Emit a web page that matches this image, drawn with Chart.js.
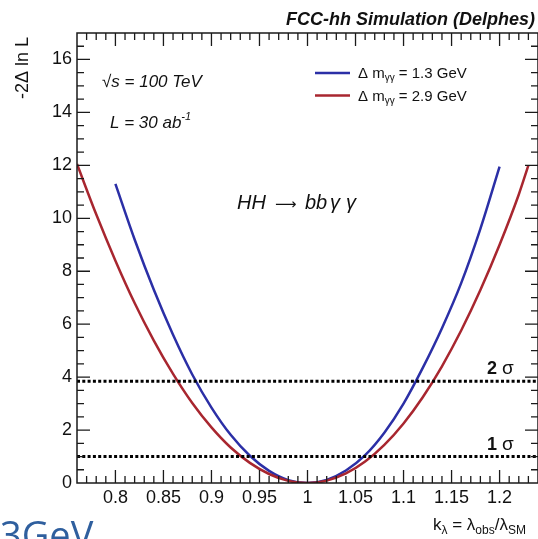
<!DOCTYPE html>
<html>
    <head>
        <script src="https://cdn.jsdelivr.net/npm/chart.js@4"></script>
        <style>
            body { margin: 0; background: #fff; }
        </style>
    </head>
    <body>
        <canvas id="nllChart" width="538" height="539"></canvas>

        <script>
            // DATA: -2 delta ln L versus k_lambda for two di-photon mass resolutions
            const kLambdaNarrow = [0.80, 0.82, 0.84, 0.86, 0.88, 0.90, 0.92, 0.94, 0.96, 0.98, 1.00,
                                   1.02, 1.04, 1.06, 1.08, 1.10, 1.12, 1.14, 1.16, 1.18, 1.20];
            const nllNarrow     = [11.3, 9.2, 7.3, 5.6, 4.1, 2.85, 1.82, 1.03, 0.46, 0.11, 0,
                                   0.12, 0.47, 1.05, 1.9, 3.0, 4.35, 5.85, 7.55, 9.6, 11.95];

            const kLambdaWide = [0.76, 0.78, 0.80, 0.82, 0.84, 0.86, 0.88, 0.90, 0.92, 0.94, 0.96, 0.98, 1.00,
                                 1.02, 1.04, 1.06, 1.08, 1.10, 1.12, 1.14, 1.16, 1.18, 1.20, 1.22, 1.23];
            const nllWide     = [12.05, 10.15, 8.4, 6.8, 5.38, 4.12, 3.02, 2.1, 1.34, 0.76, 0.34, 0.08, 0,
                                 0.09, 0.36, 0.81, 1.44, 2.25, 3.24, 4.41, 5.76, 7.29, 9.0, 10.9, 12.0];

            const massResolution = ['1.3', '2.9'];
            const seriesColors = ['#2b2fa6', '#a8262f'];

            // 1 sigma and 2 sigma thresholds
            const sigmaLevels = [1, 3.84];
            const sigmaNames = ['1', '2'];

            const xTicks = [0.8, 0.85, 0.9, 0.95, 1, 1.05, 1.1, 1.15, 1.2];
            const yTicks = [0, 2, 4, 6, 8, 10, 12, 14, 16];

            const FONT = '"Liberation Sans", Arial, sans-serif';

            const toPoints = (xs, ys) => xs.map((x, i) => ({ x: x, y: ys[i] }));

            function drawParts(ctx, x, y, parts) {
                ctx.textAlign = 'left';
                ctx.textBaseline = 'alphabetic';
                parts.forEach(p => {
                    ctx.font = p.font;
                    ctx.fillText(p.text, x, y + (p.dy || 0));
                    x += ctx.measureText(p.text).width;
                });
                return x;
            }

            // frame with inward ticks on all four sides
            const frameTicks = {
                id: 'frameTicks',
                afterDatasetsDraw(chart) {
                    const ctx = chart.ctx;
                    const a = chart.chartArea;
                    const xs = chart.scales.x, ys = chart.scales.y;
                    ctx.save();
                    ctx.strokeStyle = '#1a1a1a';
                    ctx.lineWidth = 1.5;
                    ctx.strokeRect(a.left, a.top, a.right - a.left, a.bottom - a.top);
                    ctx.lineWidth = 1.3;
                    ctx.beginPath();
                    for (let i = 77; i <= 123; i++) {
                        const px = xs.getPixelForValue(i / 100);
                        const len = i % 5 === 0 ? 13 : 7;
                        ctx.moveTo(px, a.bottom); ctx.lineTo(px, a.bottom - len);
                        ctx.moveTo(px, a.top); ctx.lineTo(px, a.top + len);
                    }
                    for (let i = 1; i <= 33; i++) {
                        const py = ys.getPixelForValue(i / 2);
                        const len = i % 4 === 0 ? 13 : 7;
                        ctx.moveTo(a.left, py); ctx.lineTo(a.left + len, py);
                        ctx.moveTo(a.right, py); ctx.lineTo(a.right - len, py);
                    }
                    ctx.stroke();
                    ctx.restore();
                },
                afterDraw(chart) {
                    const ctx = chart.ctx;
                    const ys = chart.scales.y;
                    ctx.save();
                    ctx.fillStyle = '#111';

                    ctx.font = 'italic bold 18px ' + FONT;
                    ctx.textAlign = 'right';
                    ctx.fillText('FCC-hh Simulation (Delphes)', 535, 25);

                    // y axis title
                    ctx.save();
                    ctx.translate(23, 37);
                    ctx.rotate(-Math.PI / 2);
                    ctx.font = '18px ' + FONT;
                    ctx.textAlign = 'right';
                    ctx.textBaseline = 'middle';
                    ctx.fillText('-2\u0394 ln L', 0, 0);
                    ctx.restore();

                    // x axis title
                    const big = '17px ' + FONT, sub = '12px ' + FONT;
                    drawParts(ctx, 433, 530, [
                        { text: 'k', font: big },
                        { text: '\u03bb', font: sub, dy: 4 },
                        { text: ' = \u03bb', font: big },
                        { text: 'obs', font: sub, dy: 4 },
                        { text: '/\u03bb', font: big },
                        { text: 'SM', font: sub, dy: 4 }
                    ]);

                    const it = 'italic 17px ' + FONT;
                    drawParts(ctx, 102, 87, [{ text: '\u221as = 100 TeV', font: it }]);
                    drawParts(ctx, 110, 128, [
                        { text: 'L = 30 ab', font: it },
                        { text: '-1', font: 'italic 11px ' + FONT, dy: -8 }
                    ]);

                    // legend
                    massResolution.forEach((m, i) => {
                        const ly = 73 + i * 22.5;
                        ctx.strokeStyle = seriesColors[i];
                        ctx.lineWidth = 2.5;
                        ctx.beginPath();
                        ctx.moveTo(315, ly); ctx.lineTo(350, ly);
                        ctx.stroke();
                        drawParts(ctx, 358, ly + 5, [
                            { text: '\u0394 m', font: '15px ' + FONT },
                            { text: '\u03b3\u03b3', font: '10px ' + FONT, dy: 3 },
                            { text: ' = ' + m + ' GeV', font: '15px ' + FONT }
                        ]);
                    });

                    // process label
                    const proc = 'italic 20px ' + FONT;
                    drawParts(ctx, 237, 209, [{ text: 'HH', font: proc }]);
                    drawParts(ctx, 275, 209, [{ text: '\u27f6', font: '15px "DejaVu Sans", sans-serif' }]);
                    drawParts(ctx, 305, 209, [{ text: 'bb', font: proc }]);
                    drawParts(ctx, 330, 209, [{ text: '\u03b3', font: proc }]);
                    drawParts(ctx, 346, 209, [{ text: '\u03b3', font: proc }]);

                    // sigma labels above the dotted lines
                    sigmaLevels.forEach((lv, i) => {
                        const py = ys.getPixelForValue(lv) - 7;
                        drawParts(ctx, 487, py, [{ text: sigmaNames[i], font: 'bold 18px ' + FONT }]);
                        drawParts(ctx, 502, py, [{ text: '\u03c3', font: '19px ' + FONT }]);
                    });

                    // slide caption below the figure
                    ctx.fillStyle = '#2f5f9e';
                    drawParts(ctx, 0, 549, [{ text: '3GeV', font: '38px "Open Sans", sans-serif' }]);
                    ctx.restore();
                }
            };

            const curveStyle = {
                showLine: true,
                pointRadius: 0,
                borderWidth: 2.5,
                cubicInterpolationMode: 'monotone'
            };

            const data = {
                datasets: [
                    ...sigmaLevels.map(lv => ({
                        data: [{ x: 0.76, y: lv }, { x: 1.24, y: lv }],
                        showLine: true,
                        pointRadius: 0,
                        borderColor: '#000',
                        borderWidth: 3,
                        borderDash: [3, 2.3]
                    })),
                    Object.assign({ data: toPoints(kLambdaWide, nllWide), borderColor: seriesColors[1] }, curveStyle),
                    Object.assign({ data: toPoints(kLambdaNarrow, nllNarrow), borderColor: seriesColors[0] }, curveStyle)
                ]
            };

            const tickFont = { family: FONT, size: 18 };

            const config = {
                type: 'scatter',
                data,
                options: {
                    responsive: false,
                    animation: false,
                    devicePixelRatio: 1,
                    layout: { padding: { top: 33, right: 0, left: 0, bottom: 0 } },
                    plugins: { legend: { display: false }, tooltip: { enabled: false } },
                    scales: {
                        x: {
                            type: 'linear',
                            min: 0.76,
                            max: 1.24,
                            grid: { display: false, drawTicks: false },
                            border: { display: false },
                            ticks: { font: tickFont, color: '#111', padding: 4,
                                     callback: v => String(+v.toFixed(2)) },
                            afterBuildTicks: s => { s.ticks = xTicks.map(v => ({ value: v })); },
                            afterFit: s => { s.height = 56; }
                        },
                        y: {
                            type: 'linear',
                            min: 0,
                            max: 17,
                            grid: { display: false, drawTicks: false },
                            border: { display: false },
                            ticks: { font: tickFont, color: '#111', padding: 5 },
                            afterBuildTicks: s => { s.ticks = yTicks.map(v => ({ value: v })); },
                            afterFit: s => { s.width = 77; }
                        }
                    }
                },
                plugins: [frameTicks]
            };

            // RENDER
            Promise.all([
                document.fonts.load('18px "Liberation Sans"'),
                document.fonts.load('italic bold 18px "Liberation Sans"'),
                document.fonts.load('15px "DejaVu Sans"'),
                document.fonts.load('38px "Open Sans"')
            ]).finally(() => {
                new Chart(document.getElementById('nllChart'), config);
            });
        </script>
    </body>
</html>
